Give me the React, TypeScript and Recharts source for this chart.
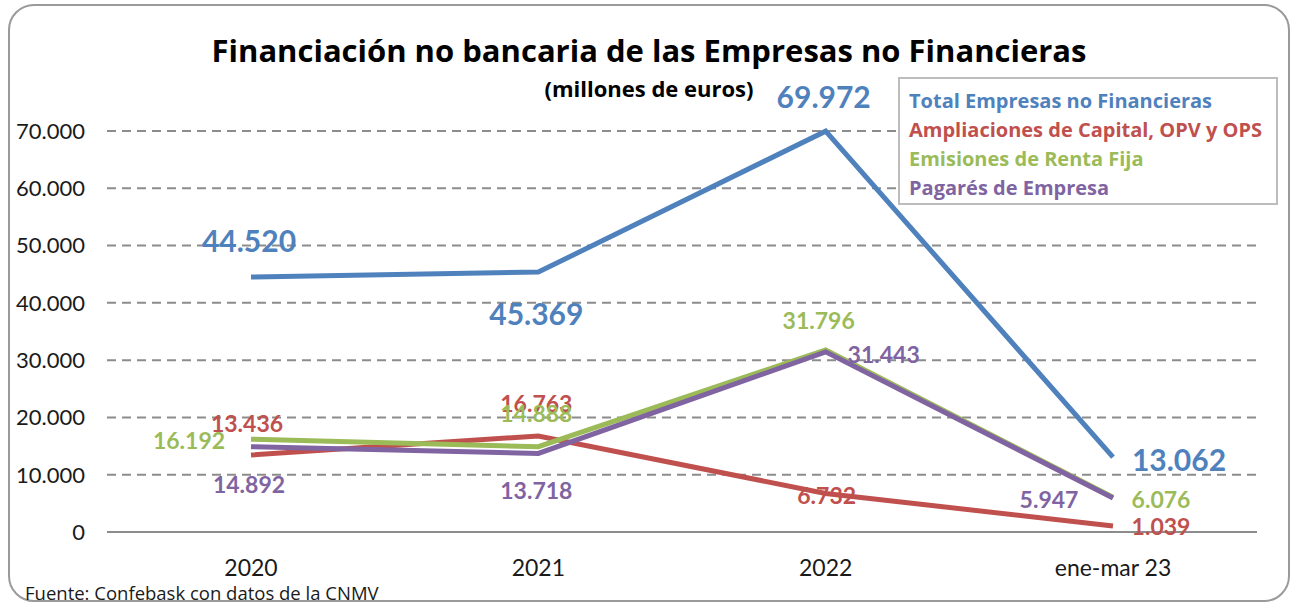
import React from 'react';
import { LineChart, Line, XAxis, YAxis, CartesianGrid } from 'recharts';

const categories = ['2020', '2021', '2022', 'ene-mar 23'];
const totalEmpresas = [44520, 45369, 69972, 13062];
const ampliaciones = [13436, 16763, 6732, 1039];
const rentaFija = [16192, 14888, 31796, 6076];
const pagares = [14892, 13718, 31443, 5947];
const yTicks = [0, 10000, 20000, 30000, 40000, 50000, 60000, 70000];

const seriesNames = {
  total: 'Total Empresas no Financieras',
  ampl: 'Ampliaciones de Capital, OPV y OPS',
  renta: 'Emisiones de Renta Fija',
  pagares: 'Pagarés de Empresa',
};

const colors = {
  total: '#4F81BD',
  ampl: '#C0504D',
  renta: '#9BBB59',
  pagares: '#8064A2',
};

// label offsets from each point, [dx, dy]
const totalOffsets = [[-2, -37], [-2, 41], [-2, -35], [66, 2]];
const amplOffsets = [[-4, -32], [-2, -33], [1, 2], [48, 0]];
const rentaOffsets = [[-62, 1], [-2, -34], [-7, -30], [48, 2]];
const pagaresOffsets = [[-2, 37], [-2, 37], [58, 2], [-64, 1]];

const data = categories.map((c, i) => ({
  name: c,
  total: totalEmpresas[i],
  ampl: ampliaciones[i],
  renta: rentaFija[i],
  pagares: pagares[i],
}));

const NUM_FONT = 'Lato, sans-serif';
const TXT_FONT = '"Open Sans", sans-serif';

const fmt = (v: number) => String(v).replace(/\B(?=(\d{3})+(?!\d))/g, '.');

const makeLabel = (offsets: number[][], color: string, size: number) => (props: any) => {
  const { x, y, value, index } = props;
  if (x == null || y == null) return null;
  const [dx, dy] = offsets[index] || [0, 0];
  return (
    <text
      x={x + dx}
      y={y + dy}
      textAnchor="middle"
      dominantBaseline="central"
      fill={color}
      fontSize={size}
      fontWeight="bold"
      fontFamily={NUM_FONT}
    >
      {fmt(value)}
    </text>
  );
};

const App: React.FC = () => {
  return (
    <div
      style={{
        position: 'absolute',
        left: 8,
        top: 4,
        width: 1282,
        height: 598,
        border: '2px solid #9a9a9a',
        borderRadius: 26,
        boxSizing: 'border-box',
        background: '#fff',
        fontFamily: TXT_FONT,
      }}
    >
      <div
        style={{
          position: 'absolute',
          left: 0,
          width: 1278,
          top: 23,
          textAlign: 'center',
          fontSize: 31,
          fontWeight: 'bold',
          color: '#000',
          whiteSpace: 'nowrap',
        }}
      >
        Financiación no bancaria de las Empresas no Financieras
      </div>
      <div
        style={{
          position: 'absolute',
          left: 0,
          width: 1278,
          top: 67,
          textAlign: 'center',
          fontSize: 22,
          fontWeight: 'bold',
          color: '#000',
        }}
      >
        (millones de euros)
      </div>
      <LineChart
        width={1278}
        height={594}
        data={data}
        margin={{ top: 125, right: 31, left: 17, bottom: 38 }}
        style={{ position: 'absolute', left: 0, top: 0 }}
      >
        <CartesianGrid vertical={false} stroke="#8c8c8c" strokeWidth={2} strokeDasharray="9 6" />
        <XAxis
          dataKey="name"
          padding={{ left: 144, right: 144 }}
          axisLine={{ stroke: '#8c8c8c', strokeWidth: 2 }}
          tickLine={false}
          tickMargin={22}
          height={30}
          tick={{ fill: '#1a1a1a', fontSize: 23, fontFamily: NUM_FONT }}
        />
        <YAxis
          domain={[0, 70000]}
          ticks={yTicks}
          width={80}
          axisLine={false}
          tickLine={false}
          tickMargin={16}
          tickFormatter={fmt}
          tick={{ fill: '#1a1a1a', fontSize: 22, fontFamily: NUM_FONT }}
        />
        <Line
          type="linear"
          dataKey="total"
          stroke={colors.total}
          strokeWidth={5}
          dot={false}
          isAnimationActive={false}
          label={makeLabel(totalOffsets, colors.total, 30)}
        />
        <Line
          type="linear"
          dataKey="ampl"
          stroke={colors.ampl}
          strokeWidth={5}
          dot={false}
          isAnimationActive={false}
          label={makeLabel(amplOffsets, colors.ampl, 23)}
        />
        <Line
          type="linear"
          dataKey="renta"
          stroke={colors.renta}
          strokeWidth={5}
          dot={false}
          isAnimationActive={false}
          label={makeLabel(rentaOffsets, colors.renta, 23)}
        />
        <Line
          type="linear"
          dataKey="pagares"
          stroke={colors.pagares}
          strokeWidth={5}
          dot={false}
          isAnimationActive={false}
          label={makeLabel(pagaresOffsets, colors.pagares, 23)}
        />
      </LineChart>
      <div
        style={{
          position: 'absolute',
          left: 888,
          top: 71,
          width: 380,
          height: 128,
          border: '2px solid #bdbdbd',
          boxSizing: 'border-box',
          background: '#fff',
          padding: '7px 0 0 9px',
        }}
      >
        {(['total', 'ampl', 'renta', 'pagares'] as const).map((k) => (
          <div
            key={k}
            style={{
              color: colors[k],
              fontSize: 20,
              fontWeight: 'bold',
              lineHeight: '29px',
              whiteSpace: 'nowrap',
            }}
          >
            {seriesNames[k]}
          </div>
        ))}
      </div>
      <div
        style={{
          position: 'absolute',
          left: 15,
          top: 574,
          fontSize: 18.5,
          color: '#1a1a1a',
          whiteSpace: 'nowrap',
        }}
      >
        Fuente: Confebask con datos de la CNMV
      </div>
    </div>
  );
};

export default App;
